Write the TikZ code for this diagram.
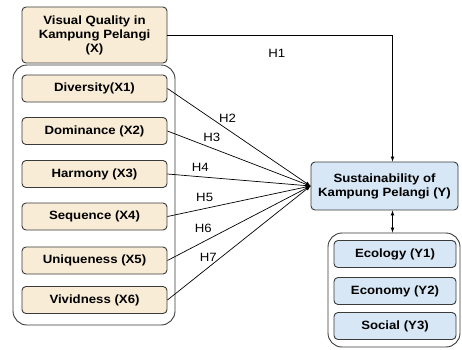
\documentclass[tikz,border=0pt]{standalone}
\usepackage{fontspec}
\setmainfont{Liberation Sans}[FakeStretch=1.1]
\usetikzlibrary{positioning}
\definecolor{cream}{HTML}{F8ECD6}
\definecolor{paleblue}{HTML}{D8E7F5}
\definecolor{edgegray}{HTML}{3A3A3A}

\begin{document}
\begin{tikzpicture}[>=latex, x=1pt, y=-1pt,
  xbox/.style={draw=edgegray, fill=cream, rounded corners=4pt, line width=0.9pt,
    minimum width=145pt, minimum height=27pt, inner sep=1pt, align=center,
    font=\fontsize{12}{14}\selectfont\bfseries},
  ybox/.style={xbox, fill=paleblue, minimum width=122pt},
  group/.style={draw=edgegray, rounded corners=14pt, line width=0.9pt},
  hlab/.style={font=\fontsize{12}{14}\selectfont, inner sep=0pt}]

\useasboundingbox (0,0) rectangle (462,349);

% groups
\path
(94,195)  node[group, minimum width=162pt, minimum height=260pt] (gx) {}
(394,290) node[group, minimum width=132pt, minimum height=114pt] (gy) {};

% Visual quality (X)
\path
(94.5,35)   node[xbox, minimum height=56pt] (vq) {Visual Quality in\\Kampung Pelangi\\(X)}
(94.5,88.5) node[xbox] (x1) {Diversity(X1)}
(94.5,131)  node[xbox] (x2) {Dominance (X2)}
(94.5,174)  node[xbox] (x3) {Harmony (X3)}
(94.5,216.5) node[xbox] (x4) {Sequence (X4)}
(94.5,260.5) node[xbox] (x5) {Uniqueness (X5)}
(94.5,300)  node[xbox] (x6) {Vividness (X6)};

% Sustainability (Y)
\path
(384.5,186) node[ybox, minimum width=147pt, minimum height=48pt] (sk) {Sustainability of\\Kampung Pelangi (Y)}
(395,254)   node[ybox] (y1) {Ecology (Y1)}
(395,291)   node[ybox] (y2) {Economy (Y2)}
(395,326)   node[ybox] (y3) {Social (Y3)};

% hypotheses
\draw[->, line width=0.7pt] (vq.east) -| ([xshift=8pt]sk.north) node[hlab, pos=.243, below=14pt]{H1};
\draw[->, line width=0.7pt] (x1.east) -- (sk.west) node[hlab, pos=.42, above=7pt]{H2};
\draw[->, line width=0.7pt] (x2.east) -- (sk.west) node[hlab, pos=.31, above=6pt]{H3};
\draw[->, line width=0.7pt] (x3.east) -- (sk.west) node[hlab, pos=.23, above=4.5pt]{H4};
\draw[->, line width=0.7pt] (x4.east) -- (sk.west) node[hlab, pos=.26, above=6.5pt]{H5};
\draw[->, line width=0.7pt] (x5.east) -- (sk.west) node[hlab, pos=.25, above=8.5pt]{H6};
\draw[->, line width=0.7pt] (x6.east) -- (sk.west) node[hlab, pos=.285, above=6pt]{H7};

\draw[<->, line width=0.7pt] ([xshift=8pt]sk.south) -- ([xshift=8pt]sk.south |- gy.north);

\end{tikzpicture}
\end{document}
